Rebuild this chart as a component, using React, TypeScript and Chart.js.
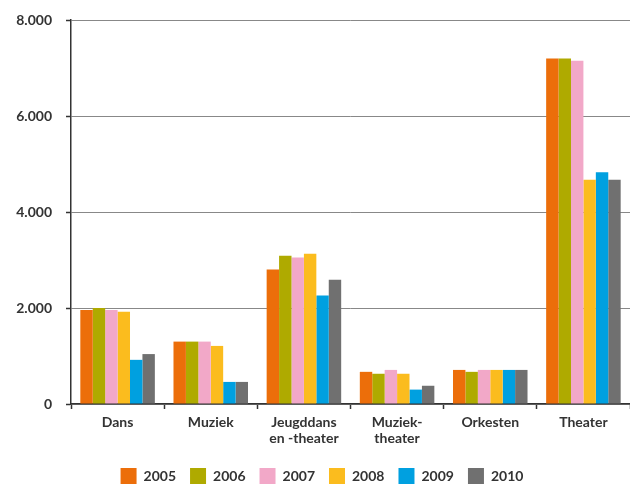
import React, { useEffect, useRef } from 'react';
import { Chart, registerables } from 'chart.js';
Chart.register(...registerables);

const categories: (string | string[])[] = ['Dans', 'Muziek', ['Jeugddans', 'en -theater'], ['Muziek-', 'theater'], 'Orkesten', 'Theater'];
const years = ['2005', '2006', '2007', '2008', '2009', '2010'];
const v2005 = [1960, 1300, 2800, 670, 710, 7200];
const v2006 = [2000, 1300, 3090, 630, 670, 7200];
const v2007 = [1960, 1300, 3050, 710, 710, 7150];
const v2008 = [1920, 1210, 3130, 630, 710, 4670];
const v2009 = [920, 460, 2260, 300, 710, 4830];
const v2010 = [1040, 460, 2590, 380, 710, 4670];
const seriesValues = [v2005, v2006, v2007, v2008, v2009, v2010];
const colors = ['#EC6E0A', '#AFAA00', '#F2A8C8', '#FBBC1E', '#00A0E0', '#707070'];
const yTickLabels = ['0', '2.000', '4.000', '6.000', '8.000'];

const FONT = 'Lato, "Open Sans", sans-serif';

export default function App() {
  const ref = useRef<HTMLCanvasElement>(null);
  useEffect(() => {
    if (!ref.current) return;
    const chart = new Chart(ref.current, {
      type: 'bar',
      data: {
        labels: categories as any,
        datasets: years.map((y, i) => ({
          label: y,
          data: seriesValues[i],
          backgroundColor: colors[i],
          borderWidth: 0,
          categoryPercentage: 0.8,
          barPercentage: 1.0,
        })),
      },
      options: {
        responsive: false,
        animation: false,
        layout: { padding: { top: 20, left: 14, right: 0, bottom: -9 } },
        plugins: {
          tooltip: { enabled: false },
          legend: {
            position: 'bottom',
            labels: {
              boxWidth: 16,
              boxHeight: 16,
              padding: 14,
              color: '#333',
              font: { family: FONT, size: 14, weight: 'bold' },
            },
          },
        },
        scales: {
          x: {
            offset: true,
            border: { display: true, color: '#333', width: 1.5 },
            grid: {
              offset: true,
              drawOnChartArea: false,
              drawTicks: true,
              tickLength: 5,
              tickColor: '#333',
              tickWidth: 1.5,
            },
            ticks: {
              color: '#333',
              padding: 6,
              font: { family: FONT, size: 14, weight: 'bold', lineHeight: 1.1 },
              maxRotation: 0,
              autoSkip: false,
            },
            afterFit: (s: any) => { s.height = 50; },
          },
          y: {
            min: 0,
            max: 8000,
            border: { display: true, color: '#333', width: 1.5 },
            grid: {
              color: '#888',
              borderDash: [1, 2],
              lineWidth: 1,
              drawTicks: true,
              tickLength: 5,
              tickColor: '#333',
              tickBorderDash: [],
              tickWidth: 1.5,
            } as any,
            ticks: {
              stepSize: 2000,
              color: '#333',
              padding: 14,
              font: { family: FONT, size: 14, weight: 'bold', lineHeight: 0.8 },
              callback: (v: any) => yTickLabels[Math.round(Number(v) / 2000)],
            },
            afterFit: (s: any) => { s.width = 57; },
          },
        },
      },
    });
    return () => chart.destroy();
  }, []);
  return (
    <div style={{ position: 'absolute', left: 0, top: 0, width: 630, height: 485, background: '#fff' }}>
      <canvas ref={ref} width={630} height={485} />
    </div>
  );
}
